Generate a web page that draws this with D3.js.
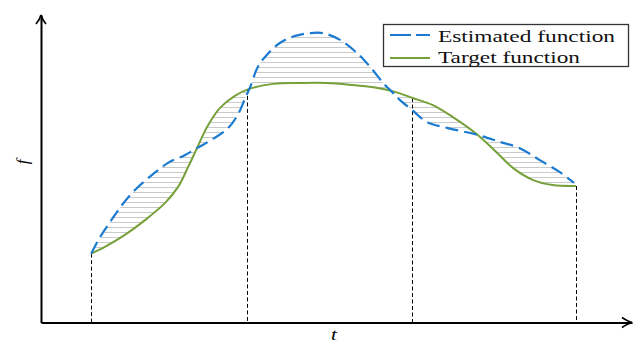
<!DOCTYPE html>
<html>
<head>
<meta charset="utf-8">
<script src="https://cdn.jsdelivr.net/npm/d3@7"></script>
<style>
  html, body { margin: 0; padding: 0; background: #fff; }
  svg { display: block; }
</style>
</head>
<body>
<svg id="chart" width="634" height="343"></svg>
<script>
// ---- data (t, f in chart units) ----
const estT = [0.85, 1.00, 1.17, 1.37, 1.59, 1.88, 2.15, 2.44, 2.64, 2.91, 3.15, 3.32, 3.45, 3.54, 3.67, 3.82, 4.04, 4.30, 4.55, 4.77, 5.06, 5.35, 5.57, 5.79, 5.94, 6.07, 6.28, 6.53, 6.87, 7.39, 7.77, 8.10, 8.44, 8.78, 9.02];
const estF = [2.24, 2.78, 3.27, 3.82, 4.31, 4.80, 5.19, 5.45, 5.67, 5.97, 6.29, 6.72, 7.27, 7.66, 8.32, 8.70, 9.09, 9.32, 9.41, 9.41, 9.19, 8.76, 8.31, 7.79, 7.50, 7.24, 6.91, 6.52, 6.33, 6.10, 5.87, 5.67, 5.28, 4.89, 4.54];
const tgtT = [0.85, 1.08, 1.42, 1.76, 2.10, 2.32, 2.49, 2.64, 2.81, 3.03, 3.28, 3.50, 3.93, 4.38, 4.84, 5.28, 5.65, 5.99, 6.29, 6.63, 6.97, 7.39, 7.72, 7.99, 8.33, 8.66, 9.05];
const tgtF = [2.24, 2.46, 2.85, 3.33, 3.89, 4.41, 5.06, 5.67, 6.36, 6.98, 7.37, 7.58, 7.76, 7.79, 7.79, 7.72, 7.64, 7.50, 7.30, 7.07, 6.68, 6.10, 5.51, 5.02, 4.63, 4.47, 4.44];
const knotT = [0.85, 3.49, 6.28, 9.05];
const knotF = [2.24, 7.58, 7.30, 4.44];
const legendLabels = ["Estimated function", "Target function"];
const axisLabels = { x: "t", y: "f" };

// ---- setup ----
const svg = d3.select("#chart");
const x = d3.scaleLinear().domain([0, 10]).range([41, 632]);
const y = d3.scaleLinear().domain([0, 10]).range([322.5, 15]);

const BLUE = "#1b7bd1";
const GREEN = "#76a03a";

const est = estT.map((t, i) => [t, estF[i]]);
const tgt = tgtT.map((t, i) => [t, tgtF[i]]);

const line = d3.line()
  .x(d => x(d[0])).y(d => y(d[1]))
  .curve(d3.curveCatmullRom.alpha(0.5));

// hatch pattern
const defs = svg.append("defs");
const pat = defs.append("pattern")
  .attr("id", "hatch").attr("patternUnits", "userSpaceOnUse")
  .attr("width", 10).attr("height", 5);
pat.append("line").attr("x1", 0).attr("x2", 10).attr("y1", 2.5).attr("y2", 2.5)
  .attr("stroke", "#cacaca").attr("stroke-width", 1);

// area between curves
const areaPath = line(est) + line(tgt.slice().reverse()).replace(/^M/, "L") + "Z";
svg.append("path").attr("d", areaPath)
  .attr("fill", "url(#hatch)").attr("fill-rule", "nonzero").attr("stroke", "none");

// vertical dashed knot lines
svg.append("g").selectAll("line").data(knotT).join("line")
  .attr("x1", d => Math.round(x(d)) + 0.5).attr("x2", d => Math.round(x(d)) + 0.5)
  .attr("y1", (d, i) => y(knotF[i])).attr("y2", y(0))
  .attr("stroke", "#000").attr("stroke-width", 1).attr("stroke-dasharray", "4,2.5");

// curves
svg.append("path").attr("d", line(tgt)).attr("fill", "none")
  .attr("stroke", GREEN).attr("stroke-width", 2);
svg.append("path").attr("d", line(est)).attr("fill", "none")
  .attr("stroke", BLUE).attr("stroke-width", 2.2).attr("stroke-dasharray", "13,6");

// axes (no ticks)
const xAxis = svg.append("g").attr("transform", `translate(0,${y(0)})`)
  .call(d3.axisBottom(x).tickValues([]).tickSizeOuter(0));
const yAxis = svg.append("g").attr("transform", `translate(${x(0)},0)`)
  .call(d3.axisLeft(y).tickValues([]).tickSizeOuter(0));
[xAxis, yAxis].forEach(g => g.select(".domain").attr("stroke", "#000").attr("stroke-width", 2));

// arrowheads
const x0 = x(0), y0 = y(0), xe = x(10), ye = y(10);
svg.append("path")
  .attr("d", `M${x0 - 5},${ye + 9} Q${x0 - 1},${ye + 4} ${x0},${ye} Q${x0 + 1},${ye + 4} ${x0 + 5},${ye + 9}`)
  .attr("fill", "none").attr("stroke", "#000").attr("stroke-width", 1.7);
svg.append("path")
  .attr("d", `M${xe - 10},${y0 - 5} Q${xe - 4},${y0 - 1} ${xe},${y0} Q${xe - 4},${y0 + 1} ${xe - 10},${y0 + 5}`)
  .attr("fill", "none").attr("stroke", "#000").attr("stroke-width", 1.7);

// axis labels
svg.append("text").text(axisLabels.x)
  .attr("transform", `translate(334,340) scale(1.25,1)`)
  .attr("text-anchor", "middle")
  .attr("font-family", "Liberation Serif, serif").attr("font-style", "italic")
  .attr("font-size", 17).attr("fill", "#000");
svg.append("text").text(axisLabels.y)
  .attr("transform", `translate(28,162) rotate(-90)`)
  .attr("text-anchor", "middle")
  .attr("font-family", "Liberation Serif, serif").attr("font-style", "italic")
  .attr("font-size", 17).attr("fill", "#000");

// legend
const lg = svg.append("g");
lg.append("rect").attr("x", 383.5).attr("y", 24.5).attr("width", 245).attr("height", 42)
  .attr("fill", "#fff").attr("stroke", "#333").attr("stroke-width", 1.3);
lg.append("line").attr("x1", 390).attr("x2", 430).attr("y1", 35).attr("y2", 35)
  .attr("stroke", BLUE).attr("stroke-width", 2.2).attr("stroke-dasharray", "21,5");
lg.append("line").attr("x1", 390).attr("x2", 430).attr("y1", 58).attr("y2", 58)
  .attr("stroke", GREEN).attr("stroke-width", 2);
const lens = [177, 142];
const bases = [41.5, 62.5];
legendLabels.forEach((s, i) => {
  lg.append("text").text(s)
    .attr("x", 438).attr("y", bases[i])
    .attr("textLength", lens[i]).attr("lengthAdjust", "spacingAndGlyphs")
    .attr("font-family", "Liberation Serif, serif")
    .attr("font-size", 16.5).attr("fill", "#111");
});
</script>
</body>
</html>
